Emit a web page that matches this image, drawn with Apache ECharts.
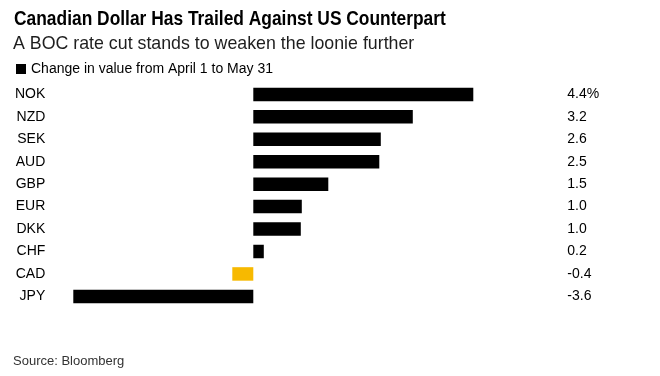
<!DOCTYPE html>
<html>
<head>
<meta charset="utf-8">
<script src="https://cdn.jsdelivr.net/npm/echarts@6/dist/echarts.min.js"></script>
<style>html,body{margin:0;padding:0;background:#fff}#c{width:660px;height:376px}</style>
</head>
<body>
<div id="c"></div>
<script>
var categories = ['NOK','NZD','SEK','AUD','GBP','EUR','DKK','CHF','CAD','JPY'];
var values = [4.4, 3.19, 2.55, 2.52, 1.5, 0.97, 0.95, 0.21, -0.42, -3.6];
var valueLabels = ['4.4%','3.2','2.6','2.5','1.5','1.0','1.0','0.2','-0.4','-3.6'];
var highlight = 'CAD';
var seriesName = 'Change in value from April 1 to May 31';
var titleText = 'Canadian Dollar Has Trailed Against US Counterpart';
var subtitleText = 'A BOC rate cut stands to weaken the loonie further';
var sourceText = 'Source: Bloomberg';

var chart = echarts.init(document.getElementById('c'), null, {renderer:'canvas'});
var font = '"Liberation Sans", Arial, sans-serif';
chart.setOption({
  animation:false,
  backgroundColor:'#fff',
  graphic:[
    {type:'text', left:14, top:8.5, scaleX:0.848, originX:0,
     style:{text:titleText, fill:'#000', font:'bold 20.5px "Liberation Sans", Arial, sans-serif'}}
  ],
  title:[
    {text:subtitleText, left:13, top:35, padding:0,
     textStyle:{fontFamily:font, fontSize:17.8, fontWeight:'normal', color:'#1e1e1e'}},
    {text:sourceText, left:13, top:355, padding:0,
     textStyle:{fontFamily:font, fontSize:13, fontWeight:'normal', color:'#333'}}
  ],
  legend:{left:16, top:62, padding:0, icon:'rect', itemWidth:10, itemHeight:10, itemGap:5,
    textStyle:{fontFamily:font, fontSize:14, color:'#000', padding:[0,0,0,0]},
    data:[{name:seriesName, itemStyle:{color:'#000'}}]},
  grid:{left:73.3, right:186.7, top:83.2, bottom:68.4, containLabel:false},
  xAxis:{type:'value', min:-3.6, max:4.4, show:false},
  yAxis:[
    {type:'category', data:categories, inverse:true,
     axisLine:{show:false}, axisTick:{show:false},
     axisLabel:{margin:28, fontFamily:font, fontSize:14, color:'#000'}},
    {type:'category', data:valueLabels, inverse:true, position:'right',
     axisLine:{show:false}, axisTick:{show:false},
     axisLabel:{margin:94, align:'left', fontFamily:font, fontSize:14, color:'#000'}}
  ],
  series:[{
    name:seriesName, type:'bar', barWidth:13.5,
    data:values.map(function(v,i){
      return {value:v, itemStyle:{color: categories[i]===highlight ? '#f7b900' : '#000'}};
    })
  }]
});
</script>
</body>
</html>
